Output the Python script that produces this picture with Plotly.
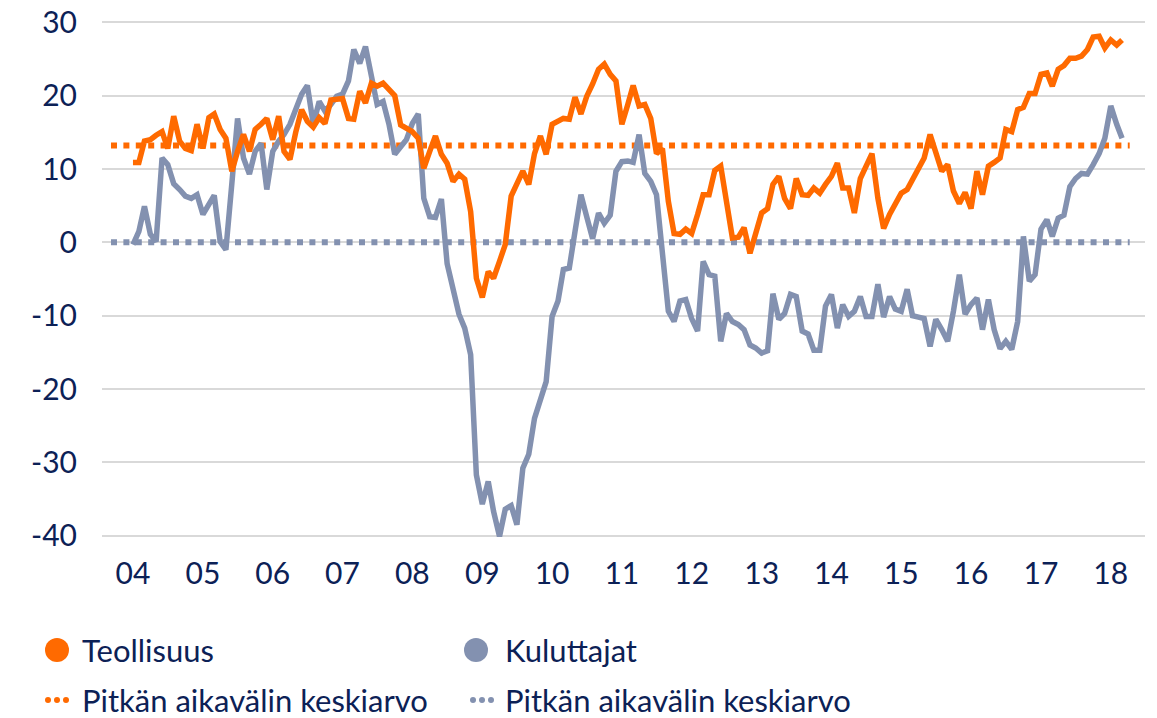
import pandas as pd
import plotly.graph_objects as go

# ---------------- data ----------------
months = pd.date_range("2004-01-01", periods=171, freq="MS")

teollisuus = [
    10.9, 10.9, 13.8, 14.0, 14.6, 15.1, 12.8, 17.2, 13.8, 12.8, 12.5, 16.1,   # 2004
    12.8, 17.0, 17.5, 15.4, 14.2, 9.7, 12.4, 14.7, 12.4, 15.4, 16.1, 16.9,    # 2005
    14.0, 17.2, 12.4, 11.3, 15.0, 18.1, 16.5, 15.7, 17.0, 16.2, 19.4, 19.5,   # 2006
    19.6, 16.9, 16.8, 20.6, 19.0, 21.7, 21.3, 21.7, 20.8, 20.0, 16.0, 15.5,   # 2007
    15.1, 14.2, 10.1, 12.4, 14.5, 12.0, 10.8, 8.3, 9.3, 8.6, 4.2, -4.9,       # 2008
    -7.5, -4.0, -4.9, -2.6, -0.3, 6.3, 7.9, 9.7, 7.9, 12.1, 14.5, 12.0,       # 2009
    16.1, 16.5, 16.9, 16.8, 19.8, 17.5, 19.9, 21.6, 23.6, 24.3, 22.9, 22.0,   # 2010
    16.1, 18.8, 21.4, 18.6, 18.8, 16.9, 12.1, 12.8, 5.6, 1.2, 1.1, 1.8,       # 2011
    1.2, 3.8, 6.5, 6.5, 9.8, 10.4, 5.6, 0.6, 0.7, 2.0, -1.5, 1.5,             # 2012
    4.0, 4.6, 7.9, 9.0, 6.0, 4.6, 8.7, 6.5, 6.4, 7.4, 6.7, 7.9,               # 2013
    9.0, 10.8, 7.4, 7.4, 4.0, 8.7, 10.4, 12.1, 6.0, 1.9, 3.8, 5.3,            # 2014
    6.7, 7.2, 8.6, 10.0, 11.5, 14.7, 12.1, 9.7, 10.6, 7.0, 5.3, 6.8,          # 2015
    4.6, 9.7, 6.5, 10.4, 10.9, 11.5, 15.4, 15.1, 18.1, 18.4, 20.3, 20.3,      # 2016
    22.9, 23.1, 21.3, 23.6, 24.1, 25.1, 25.1, 25.4, 26.3, 28.0, 28.1, 26.5,   # 2017
    27.6, 26.9, 27.6,                                                         # 2018
]

kuluttajat = [
    -0.3, 1.5, 4.9, 1.1, 0.1, 11.5, 10.6, 8.0, 7.2, 6.3, 6.0, 6.5,            # 2004
    3.8, 5.3, 6.4, 0.1, -1.0, 8.0, 16.9, 11.5, 9.3, 12.4, 13.5, 7.2,          # 2005
    12.4, 13.8, 14.7, 16.1, 17.9, 20.2, 21.4, 16.1, 19.2, 17.9, 18.8, 19.9,   # 2006
    20.2, 22.0, 26.3, 24.4, 26.7, 22.4, 18.8, 19.2, 16.1, 12.0, 13.0, 14.0,   # 2007
    16.2, 17.5, 6.0, 3.5, 3.4, 5.9, -2.9, -6.3, -9.8, -11.7, -15.3, -31.7,    # 2008
    -35.7, -32.6, -36.7, -40.1, -36.4, -35.9, -38.5, -30.8, -28.9, -24.0, -21.5, -19.0,  # 2009
    -10.1, -8.0, -3.7, -3.5, 1.5, 6.5, 3.5, 0.5, 4.0, 2.6, 3.7, 9.7,          # 2010
    11.0, 11.1, 10.9, 14.7, 9.4, 8.3, 6.5, -1.2, -9.4, -10.8, -8.0, -7.8,     # 2011
    -10.4, -12.1, -2.6, -4.4, -4.6, -13.5, -9.7, -10.8, -11.2, -11.9, -14.0, -14.4,  # 2012
    -15.1, -14.8, -7.0, -10.5, -9.7, -7.1, -7.4, -12.1, -12.5, -14.7, -14.7, -8.7,   # 2013
    -7.1, -11.7, -8.5, -10.1, -9.4, -7.4, -10.1, -10.1, -5.7, -10.2, -7.4, -9.1,     # 2014
    -9.4, -6.4, -10.0, -10.2, -10.4, -14.2, -10.5, -11.9, -13.5, -9.4, -4.4, -9.8,   # 2015
    -8.5, -7.6, -11.9, -7.8, -11.9, -14.5, -13.5, -14.6, -10.8, 0.8, -5.3, -4.4,     # 2016
    1.8, 3.1, 0.8, 3.3, 3.7, 7.6, 8.7, 9.4, 9.3, 10.6, 12.1, 14.2,            # 2017
    18.6, 16.1, 14.2,                                                         # 2018
]

teollisuus_avg = 13.2
kuluttajat_avg = 0.0

year_labels = ["04", "05", "06", "07", "08", "09", "10", "11", "12", "13",
               "14", "15", "16", "17", "18"]
y_ticks = [-40, -30, -20, -10, 0, 10, 20, 30]
y_tick_labels = ["-40", "-30", "-20", "-10", "0", "10", "20", "30"]

legend_names = ["Teollisuus", "Kuluttajat",
                "Pitkän aikavälin keskiarvo", "Pitkän aikavälin keskiarvo"]

# ---------------- styles ----------------
ORANGE = "#ff6a00"
GREY = "#8391b0"
NAVY = "#0c2156"
FONT = "Lato"
W, H = 1157, 718
OFF = 8                      # page body offset of the figure inside the window
PL, PR, PT, PB = 102, 1145, 15, 543   # plot area in window pixels
ML = PL - OFF
MT = PT - OFF
PW = PR - PL
PH = PB - PT
MR = W - ML - PW
MB = H - MT - PH

year_ticks = [pd.Timestamp(f"20{y}-01-01") for y in year_labels]
x_range = [months[0] - pd.Timedelta(days=162), months[0] + pd.Timedelta(days=5293)]
avg_x = [months[0] - pd.Timedelta(days=115), months[-1] + pd.Timedelta(days=40)]

fig = go.Figure()

# long-term average lines (dotted)
for val, col in [(teollisuus_avg, ORANGE), (kuluttajat_avg, GREY)]:
    fig.add_trace(go.Scatter(
        x=avg_x, y=[val, val], mode="lines",
        line=dict(color=col, width=6, dash="6px,6.4px"),
        showlegend=False, hoverinfo="skip"))

fig.add_trace(go.Scatter(x=months, y=kuluttajat, mode="lines",
                         line=dict(color=GREY, width=5.5), name=legend_names[1],
                         showlegend=False))
fig.add_trace(go.Scatter(x=months, y=teollisuus, mode="lines",
                         line=dict(color=ORANGE, width=5.5), name=legend_names[0],
                         showlegend=False))

# ---------------- custom legend ----------------
def px(xw):
    return (xw - PL) / PW

def py(yw):
    return (PB - yw) / PH

shapes = []
annotations = []
legend_layout = [
    (legend_names[0], ORANGE, "circle", 57, 80, 650),
    (legend_names[1], GREY, "circle", 476, 503, 650),
    (legend_names[2], ORANGE, "dots", 57, 80, 700),
    (legend_names[3], GREY, "dots", 482, 503, 700),
]
for name, col, kind, cx, tx, cy in legend_layout:
    if kind == "circle":
        r = 12
        shapes.append(dict(type="circle", xref="paper", yref="paper",
                           x0=px(cx - r), x1=px(cx + r), y0=py(cy + r), y1=py(cy - r),
                           fillcolor=col, line=dict(width=0)))
    else:
        r = 3
        for dx in (-9, 0, 9):
            shapes.append(dict(type="circle", xref="paper", yref="paper",
                               x0=px(cx + dx - r), x1=px(cx + dx + r),
                               y0=py(cy + r), y1=py(cy - r),
                               fillcolor=col, line=dict(width=0)))
    annotations.append(dict(text=name, xref="paper", yref="paper",
                            x=px(tx), y=py(cy), xanchor="left", yanchor="middle",
                            showarrow=False, font=dict(family=FONT, size=31, color=NAVY)))

fig.update_layout(
    width=W, height=H,
    margin=dict(l=ML, r=MR, t=MT, b=MB, autoexpand=False),
    paper_bgcolor="white", plot_bgcolor="white",
    showlegend=False,
    shapes=shapes, annotations=annotations,
    font=dict(family=FONT, color=NAVY),
)
fig.update_xaxes(type="date", range=x_range, tickmode="array",
                 tickvals=year_ticks, ticktext=year_labels, automargin=False,
                 showgrid=False, zeroline=False, showline=False, ticks="",
                 tickfont=dict(family=FONT, size=30, color=NAVY),
                 ticklabelstandoff=10, ticklabeloverflow="allow")
fig.update_yaxes(range=[-41, 31], tickmode="array", tickvals=y_ticks,
                 ticktext=y_tick_labels, showgrid=True, gridcolor="#d9d9d9",
                 gridwidth=1.5, zeroline=False, showline=False, ticks="",
                 automargin=False,
                 tickfont=dict(family=FONT, size=30, color=NAVY),
                 ticklabelstandoff=24, ticklabeloverflow="allow")

fig.write_html("out.html")
